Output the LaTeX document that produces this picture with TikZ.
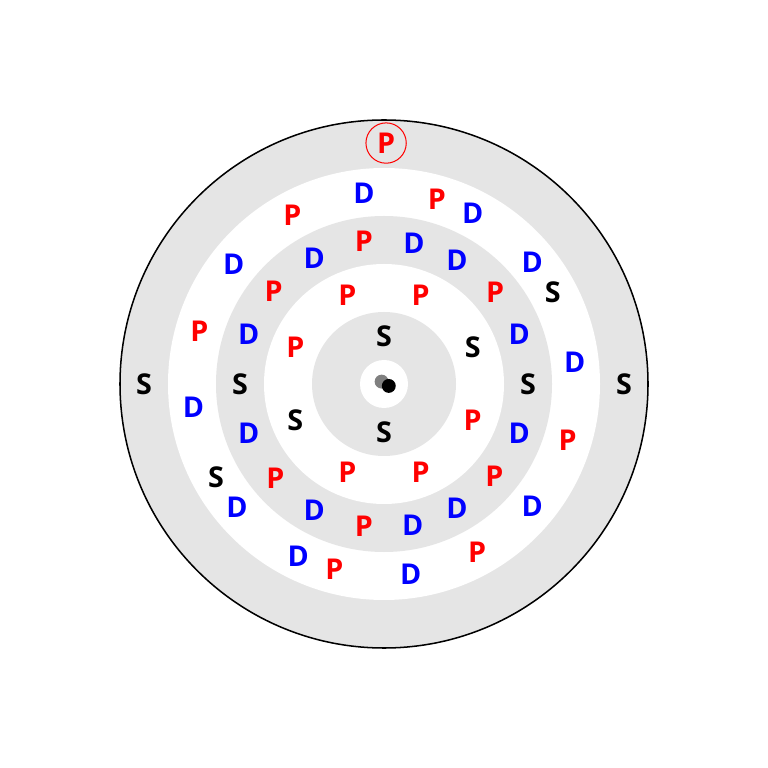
\documentclass[tikz,border=0pt]{standalone}
\usepackage{fontspec}
\setmainfont{Open Sans}
\begin{document}
\begin{tikzpicture}[
        scale=1,
        transform shape,
        font=\bfseries\fontsize{17}{20}\selectfont
    ]
    \tikzset{
        ringg/.style = {fill=gray!20},
        ringw/.style = {fill=white},
        es/.style = {text=black, inner sep=1pt},
        ep/.style = {text=red, inner sep=1pt},
        ed/.style = {text=blue, inner sep=1pt},
        epc/.style = {circle, draw=red, line width=0.6pt, text=red, minimum size=0.84cm, inner sep=0pt},
        nuc/.style = {circle, inner sep=0pt, minimum size=0.29cm},
    }
    \useasboundingbox (-8,-8) rectangle (8,8);
    \draw[ringg, draw=black, line width=0.9pt] (0,0) circle (5.5);
    \fill[ringw] (0,0) circle (4.5);
    \fill[ringg] (0,0) circle (3.5);
    \fill[ringw] (0,0) circle (2.5);
    \fill[ringg] (0,0) circle (1.5);
    \fill[ringw] (0,0) circle (0.5);
    \node[nuc, fill=gray] at (-0.05,0.05) (nu1) {};
    \node[nuc, fill=black] at (0.1,-0.04) (nu2) {};
    % shell K
    \node[es] at (90:1) (k1) {S};
    \node[es] at (270:1) (k2) {S};
    % shell L
    \node[es] at (22.5:2) (l1) {S};
    \node[ep] at (67.5:2) (l2) {P};
    \node[ep] at (112.5:2) (l3) {P};
    \node[ep] at (157.5:2) (l4) {P};
    \node[es] at (202.5:2) (l5) {S};
    \node[ep] at (247.5:2) (l6) {P};
    \node[ep] at (292.5:2) (l7) {P};
    \node[ep] at (337.5:2) (l8) {P};
    % shell M
    \node[es] at (0:3) (m1) {S};
    \node[ed] at (20:3) (m2) {D};
    \node[ep] at (39.5:3) (m3) {P};
    \node[ed] at (59.5:3) (m4) {D};
    \node[ed] at (78:3) (m5) {D};
    \node[ep] at (98:3) (m6) {P};
    \node[ed] at (119:3) (m7) {D};
    \node[ep] at (140:3) (m8) {P};
    \node[ed] at (160:3) (m9) {D};
    \node[es] at (180:3) (m10) {S};
    \node[ed] at (200:3) (m11) {D};
    \node[ep] at (221:3) (m12) {P};
    \node[ed] at (241:3) (m13) {D};
    \node[ep] at (262:3) (m14) {P};
    \node[ed] at (281.5:3) (m15) {D};
    \node[ed] at (300.5:3) (m16) {D};
    \node[ep] at (320:3) (m17) {P};
    \node[ed] at (340:3) (m18) {D};
    % shell N
    \node[ed] at (6.5:4) (n1) {D};
    \node[es] at (28.5:4) (n2) {S};
    \node[ed] at (39.5:4) (n3) {D};
    \node[ed] at (62.5:4) (n4) {D};
    \node[ep] at (74:4) (n5) {P};
    \node[ed] at (96:4) (n6) {D};
    \node[ep] at (118.5:4) (n7) {P};
    \node[ed] at (141.5:4) (n8) {D};
    \node[ep] at (164:4) (n9) {P};
    \node[ed] at (187:4) (n10) {D};
    \node[es] at (209:4) (n11) {S};
    \node[ed] at (220:4) (n12) {D};
    \node[ed] at (243.5:4) (n13) {D};
    \node[ep] at (255:4) (n14) {P};
    \node[ed] at (278:4) (n15) {D};
    \node[ep] at (299:4) (n16) {P};
    \node[ed] at (320.5:4) (n17) {D};
    \node[ep] at (343:4) (n18) {P};
    % shell O
    \node[es] at (0:5) (o1) {S};
    \node[epc] at (89.5:5.02) (o2) {P};
    \node[es] at (180:5) (o3) {S};
\end{tikzpicture}
\end{document}
